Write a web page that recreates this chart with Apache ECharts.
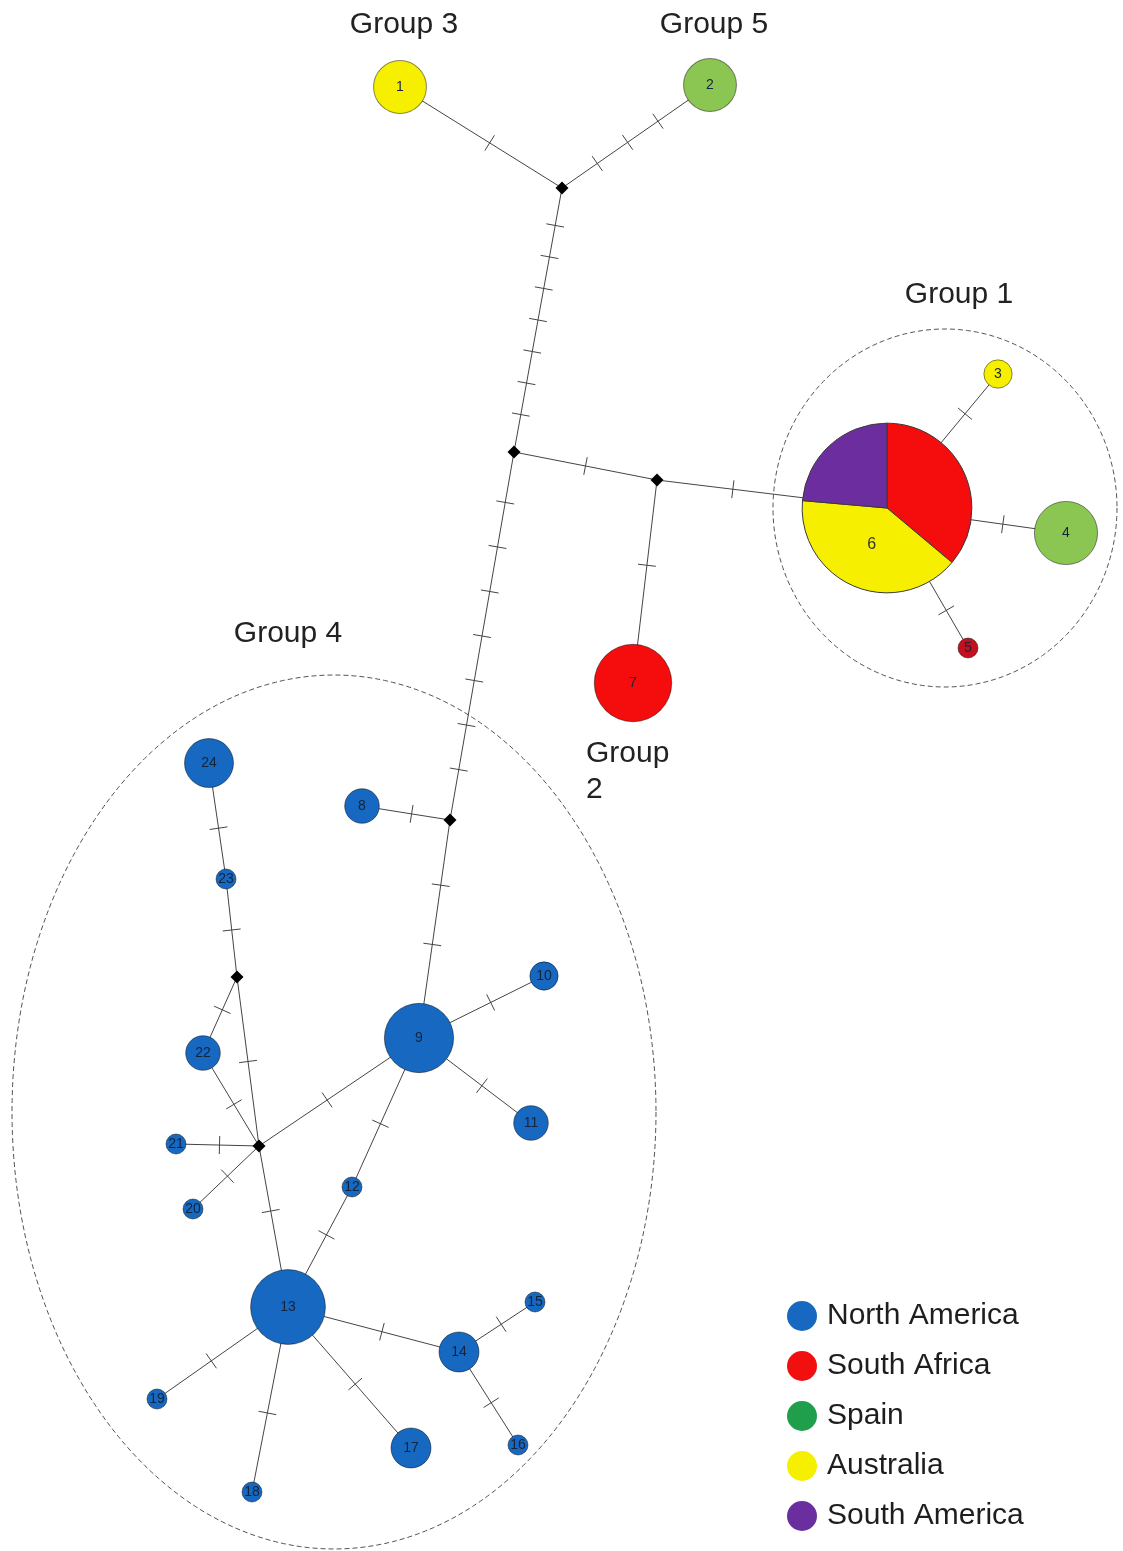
<!DOCTYPE html>
<html><head><meta charset="utf-8">
<script src="https://cdn.jsdelivr.net/npm/echarts@6/dist/echarts.min.js"></script>
<style>html,body{margin:0;padding:0;background:#fff}#c{width:1123px;height:1551px}</style>
</head><body><div id="c"></div>
<script>
// ---- data ----
const regions = ['North America', 'South Africa', 'Spain', 'Australia', 'South America'];
const hapIds = ['1','2','3','4','5','6','7','8','9','10','11','12','13','14','15','16','17','18','19','20','21','22','23','24'];
const hapX = [400, 710, 998, 1066, 968, 887, 633, 362, 419, 544, 531, 352, 288, 459, 535, 518, 411, 252, 157, 193, 176, 203, 226, 209];
const hapY = [87, 85, 374, 533, 648, 508, 683, 806, 1038, 976, 1123, 1187, 1307, 1352, 1302, 1445, 1448, 1492, 1399, 1209, 1144, 1053, 879, 763];
const hapCount = [7, 7, 2, 10, 1, 72, 15, 3, 12, 2, 3, 1, 14, 4, 1, 1, 4, 1, 1, 1, 1, 3, 1, 6];
const hapRegion = ['Australia', 'Spain', 'Australia', 'Spain', 'South Africa', null, 'South Africa',
  'North America', 'North America', 'North America', 'North America', 'North America', 'North America',
  'North America', 'North America', 'North America', 'North America', 'North America', 'North America',
  'North America', 'North America', 'North America', 'North America', 'North America'];
// mixed haplotype 6 (clockwise from top)
const hap6Regions = ['South Africa', 'Australia', 'South America'];
const hap6Counts = [26, 29, 17];
// median vectors
const medIds = ['m1', 'm2', 'm3', 'm4', 'm5', 'm6'];
const medX = [562, 514, 657, 450, 237, 259];
const medY = [188, 452, 480, 820, 977, 1146];
// edges: from, to, mutation steps
const edgeFrom = ['1','2','m1','m2','m3','6','6','6','m3','m2','m4','m4','9','9','9','9','12','24','23','m5','m5','22','m6','m6','m6','13','13','13','13','14','14'];
const edgeTo   = ['m1','m1','m2','m3','6','3','4','5','7','m4','8','9','10','11','m6','12','13','23','m5','22','m6','m6','21','20','13','19','18','17','14','15','16'];
const edgeSteps = [1, 3, 7, 1, 1, 1, 1, 1, 1, 7, 1, 2, 1, 1, 1, 1, 1, 1, 1, 1, 1, 1, 1, 1, 1, 1, 1, 1, 1, 1, 1];
// groups (dashed outlines) and labels
const groupLabels = ['Group 1', 'Group 2', 'Group 3', 'Group 4', 'Group 5'];
const groupLabelX = [959, 586, 404, 288, 714];
const groupLabelY = [295, 772, 25, 634, 25];
const outlineCx = [945, 334];
const outlineCy = [508, 1112];
const outlineRx = [172, 322];
const outlineRy = [179, 437];

// ---- styles ----
const legendColors = {'North America': '#1768C1', 'South Africa': '#F20F0F', 'Spain': '#1F9E4C', 'Australia': '#F4F000', 'South America': '#6A2E9E'};
const nodeColors = {'North America': '#1668C0', 'South Africa': '#F50D0D', 'Spain': '#8CC652', 'Australia': '#F6F000', 'South America': '#6C2E9E'};
const nodeOverride = {'5': '#C4101E'};
const FONT = '"Liberation Sans", Arial, sans-serif';
const LINE = '#454545';

const sizeOf = n => 20 * Math.sqrt(n);   // symbol diameter from frequency

const pos = {};
hapIds.forEach((id, i) => pos[id] = {x: hapX[i], y: hapY[i], r: sizeOf(hapCount[i]) / 2});
medIds.forEach((id, i) => pos[id] = {x: medX[i], y: medY[i], r: 6});

const edgeData = edgeFrom.map((f, i) => {
  const a = pos[f], b = pos[edgeTo[i]];
  return [a.x, a.y, b.x, b.y, a.r, b.r, edgeSteps[i]];
});

const nodeData = [];
hapIds.forEach((id, i) => {
  if (!hapRegion[i]) return;
  nodeData.push({name: id, value: [hapX[i], hapY[i], hapCount[i]],
    itemStyle: {color: nodeOverride[id] || nodeColors[hapRegion[i]]}});
});

const i6 = hapIds.indexOf('6');
const total6 = hap6Counts.reduce((a, b) => a + b, 0);
let cum = 0;
const pieData = hap6Counts.map((c, k) => {
  const d = [hapX[i6], hapY[i6], total6, cum, c, k];
  cum += c;
  return d;
});

const chart = echarts.init(document.getElementById('c'), null, {renderer: 'canvas'});

const legendSeries = regions.map(r => ({
  type: 'scatter', name: r, data: [], itemStyle: {color: legendColors[r], opacity: 1}
}));

chart.setOption({
  animation: false,
  backgroundColor: '#ffffff',
  grid: {left: 0, right: 0, top: 0, bottom: 0},
  xAxis: {type: 'value', min: 0, max: 1123, show: false},
  yAxis: {type: 'value', min: 0, max: 1551, inverse: true, show: false},
  legend: {
    orient: 'vertical', left: 787, top: 1301, padding: 0,
    itemWidth: 30, itemHeight: 30, itemGap: 20, icon: 'circle',
    selectedMode: false,
    itemStyle: {opacity: 1},
    textStyle: {fontFamily: FONT, fontSize: 30, color: '#1e1e1e', lineHeight: 30, padding: [0, 0, 0, 5]},
    data: regions
  },
  series: [
    // dashed group outlines
    {
      type: 'custom', z: 1, clip: false, silent: true,
      data: outlineCx.map((cx, i) => [cx, outlineCy[i], outlineRx[i], outlineRy[i]]),
      renderItem: (params, api) => {
        const cx = api.value(0), cy = api.value(1), rx = api.value(2), ry = api.value(3);
        const pts = [];
        for (let k = 0; k < 240; k++) {
          const t = k / 240 * Math.PI * 2;
          pts.push(api.coord([cx + rx * Math.cos(t), cy + ry * Math.sin(t)]));
        }
        return {type: 'polygon', shape: {points: pts},
          style: {fill: 'none', stroke: '#555', lineWidth: 1, lineDash: [5, 3]}};
      }
    },
    // edges with mutation ticks
    {
      type: 'custom', z: 2, clip: false, silent: true,
      data: edgeData,
      renderItem: (params, api) => {
        const a = api.coord([api.value(0), api.value(1)]);
        const b = api.coord([api.value(2), api.value(3)]);
        const ra = api.value(4), rb = api.value(5), k = api.value(6);
        const dx = b[0] - a[0], dy = b[1] - a[1], L = Math.hypot(dx, dy);
        const ux = dx / L, uy = dy / L;
        const children = [{type: 'line', shape: {x1: a[0], y1: a[1], x2: b[0], y2: b[1]},
          style: {stroke: LINE, lineWidth: 1}}];
        const s = ra, e = L - rb, h = 9;
        for (let i = 1; i <= k; i++) {
          const d = s + (e - s) * i / (k + 1);
          const cx = a[0] + ux * d, cy = a[1] + uy * d;
          children.push({type: 'line', shape: {x1: cx - uy * h, y1: cy + ux * h, x2: cx + uy * h, y2: cy - ux * h},
            style: {stroke: LINE, lineWidth: 1}});
        }
        return {type: 'group', children};
      }
    },
    // haplotype nodes
    {
      type: 'scatter', z: 3, clip: false,
      data: nodeData,
      symbolSize: v => sizeOf(v[2]),
      itemStyle: {borderColor: 'rgba(0,0,0,0.45)', borderWidth: 1, opacity: 1},
      label: {show: true, position: 'inside', formatter: p => p.name,
        fontFamily: FONT, fontSize: 14, color: '#15243a'}
    },
    // mixed haplotype 6 pie
    {
      type: 'custom', z: 3, clip: false, silent: true,
      data: pieData,
      renderItem: (params, api) => {
        const c = api.coord([api.value(0), api.value(1)]);
        const tot = api.value(2), st = api.value(3), n = api.value(4), k = api.value(5);
        const r = sizeOf(tot) / 2;
        const a0 = -Math.PI / 2 + st / tot * Math.PI * 2;
        const a1 = -Math.PI / 2 + (st + n) / tot * Math.PI * 2;
        const children = [{type: 'sector', shape: {cx: c[0], cy: c[1], r: r, r0: 0, startAngle: a0, endAngle: a1, clockwise: true},
          style: {fill: nodeColors[hap6Regions[k]], stroke: '#3a3a3a', lineWidth: 1}}];
        if (k === 1) {
          const am = (a0 + a1) / 2;
          children.push({type: 'text', style: {text: '6', x: c[0] + Math.cos(am) * r * 0.47, y: c[1] + Math.sin(am) * r * 0.47,
            align: 'center', verticalAlign: 'middle', fontFamily: FONT, fontSize: 16, fill: '#333'}});
        }
        return {type: 'group', children};
      }
    },
    // median vectors
    {
      type: 'scatter', z: 4, clip: false, silent: true,
      data: medX.map((x, i) => [x, medY[i]]),
      symbol: 'diamond', symbolSize: 13,
      itemStyle: {color: '#000', opacity: 1}
    },
    // group labels
    {
      type: 'custom', z: 5, clip: false, silent: true,
      data: groupLabelX.map((x, i) => [x, groupLabelY[i], i]),
      renderItem: (params, api) => {
        const p = api.coord([api.value(0), api.value(1)]);
        const i = api.value(2);
        const two = groupLabels[i] === 'Group 2';
        return {type: 'text', style: {
          text: two ? 'Group\n2' : groupLabels[i], x: p[0], y: p[1],
          align: two ? 'left' : 'center', verticalAlign: 'middle',
          fontFamily: FONT, fontSize: 30, lineHeight: 36, fill: '#222'}};
      }
    }
  ].concat(legendSeries)
});
</script></body></html>
